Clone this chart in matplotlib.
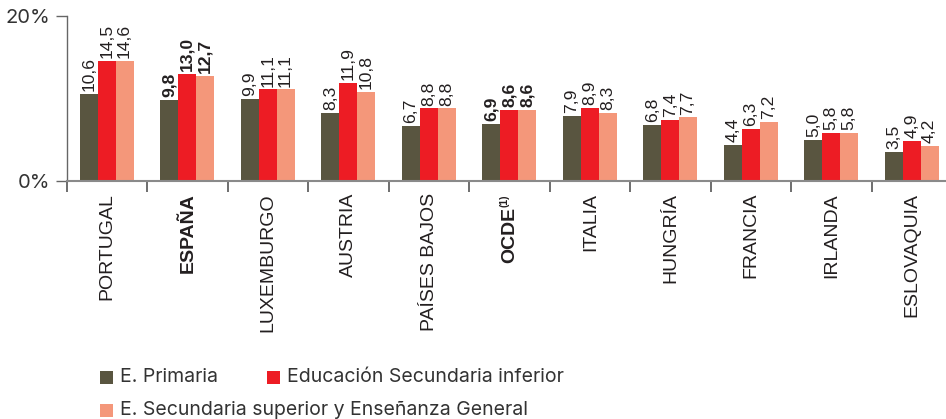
import matplotlib
matplotlib.use("Agg")
import matplotlib.pyplot as plt
import numpy as np
from matplotlib.patches import Rectangle

# Data
countries = ["PORTUGAL", "ESPAÑA", "LUXEMBURGO", "AUSTRIA", "PAÍSES BAJOS", "OCDE",
             "ITALIA", "HUNGRÍA", "FRANCIA", "IRLANDA", "ESLOVAQUIA"]
primaria = [10.6, 9.8, 9.9, 8.3, 6.7, 6.9, 7.9, 6.8, 4.4, 5.0, 3.5]
sec_inferior = [14.5, 13.0, 11.1, 11.9, 8.8, 8.6, 8.9, 7.4, 6.3, 5.8, 4.9]
sec_superior = [14.6, 12.7, 11.1, 10.8, 8.8, 8.6, 8.3, 7.7, 7.2, 5.8, 4.2]
series_names = ["E. Primaria", "Educación Secundaria inferior",
                "E. Secundaria superior y Enseñanza General"]
highlight = {"ESPAÑA", "OCDE"}
footnote_mark = {"OCDE": "(1)"}

colors = ["#595540", "#ED1C24", "#F4977A"]
chart_font = "Liberation Sans"
legend_font = "Inter"

W, H = 946, 419
fig = plt.figure(figsize=(W / 100, H / 100), dpi=100)

# axes placed in pixel units
x0, x1 = 66.5, 952.0
y_zero, y_top = 181.0, 16.0
ax = fig.add_axes([x0 / W, 1 - y_zero / H, (x1 - x0) / W, (y_zero - y_top) / H])

n = len(countries)
x = np.arange(n)
bw = 0.222
series = [primaria, sec_inferior, sec_superior]

for i, (vals, col) in enumerate(zip(series, colors)):
    pos = x + (i - 1) * bw
    ax.bar(pos, vals, width=bw, color=col, linewidth=0, zorder=2)
    for p, v, c in zip(pos, vals, countries):
        ax.text(p, v + 0.35, f"{v:.1f}".replace(".", ","), rotation=90,
                ha="center", va="bottom", fontsize=12.6, family=chart_font,
                fontweight="bold" if c in highlight else "normal",
                color="#231f20")

ax.set_xlim(-0.5, n - 0.5)
ax.set_ylim(0, 20)

for s in ["top", "right"]:
    ax.spines[s].set_visible(False)
ax.spines["left"].set_color("#666666")
ax.spines["bottom"].set_color("#8a8a8a")
ax.spines["left"].set_linewidth(1.0)
ax.spines["bottom"].set_linewidth(1.5)

ax.set_yticks([0, 20])
ax.set_yticklabels(["0%", "20%"], family=legend_font, fontsize=14.5, color="#333333")
ax.tick_params(axis="y", length=8, width=1.0, color="#666666", pad=4)

# separator ticks between country groups
ax.set_xticks([])
ax.set_xticks(np.arange(n + 1) - 0.5, minor=True)
ax.tick_params(axis="x", which="minor", length=8, width=1.2, color="#555555")

# country names below each group (rotated, reading upwards)
label_gap = 12  # pixels below the axis line
for i, c in enumerate(countries):
    weight = "bold" if c in highlight else "normal"
    extra = 14 if c in footnote_mark else 0
    ax.annotate(c, xy=(i, 0), xycoords=("data", "axes fraction"),
                xytext=(0.5, -(label_gap + extra)), textcoords="offset pixels",
                rotation=90, ha="center", va="top", fontsize=14,
                family=chart_font, fontweight=weight, color="#231f20")
    if c in footnote_mark:
        ax.annotate(footnote_mark[c], xy=(i, 0), xycoords=("data", "axes fraction"),
                    xytext=(-4.5, -(label_gap + 1)), textcoords="offset pixels",
                    rotation=90, ha="center", va="top", fontsize=7.5,
                    family=chart_font, fontweight="bold", color="#231f20")

# legend drawn in pixel positions
legend_items = [(series_names[0], colors[0], 100, 377),
                (series_names[1], colors[1], 267, 377),
                (series_names[2], colors[2], 100, 410)]
sq = 13
for name, col, px, py in legend_items:
    fig.add_artist(Rectangle((px / W, 1 - (py + sq / 2) / H), sq / W, sq / H,
                             transform=fig.transFigure, color=col, linewidth=0))
    fig.text((px + sq + 7) / W, 1 - py / H, name, ha="left", va="center",
             family=legend_font, fontsize=14, color="#333333")

fig.savefig("out.png", dpi=100)
